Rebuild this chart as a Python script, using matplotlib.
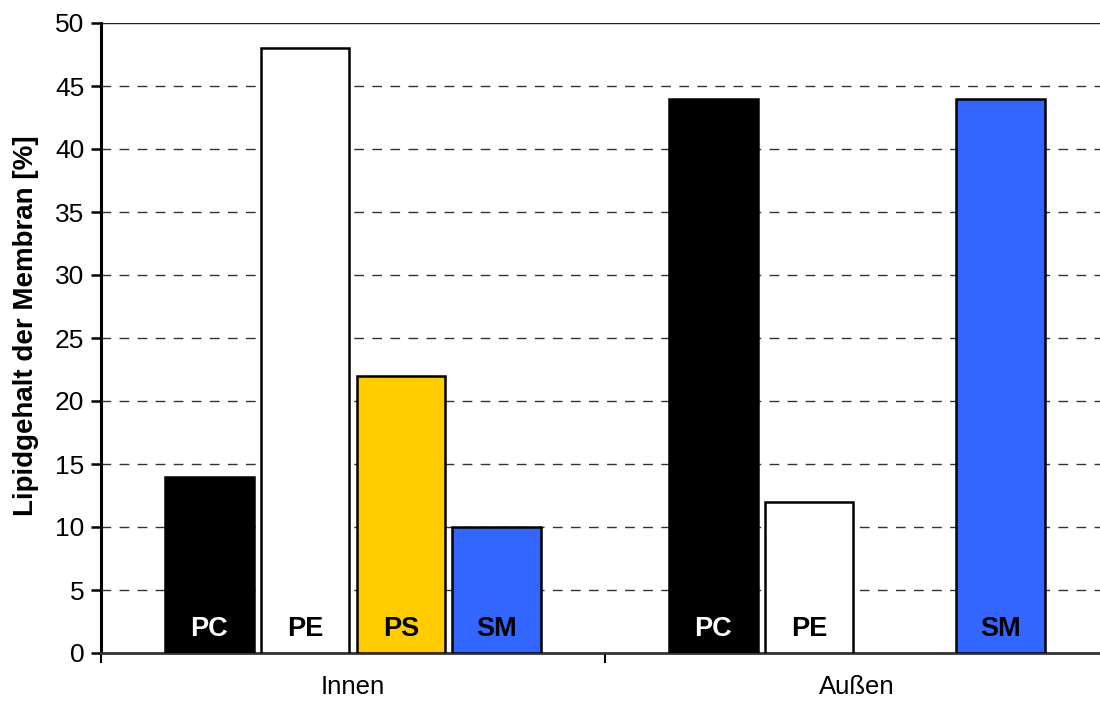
import matplotlib
matplotlib.use("Agg")
import matplotlib.pyplot as plt
import numpy as np

plt.rcParams['font.family'] = ['Liberation Sans', 'DejaVu Sans']

# Lipid composition of the membrane leaflets
groups = ["Innen", "Außen"]
lipids = ["PC", "PE", "PS", "SM"]
innen = [14, 48, 22, 10]
aussen = [44, 12, 0, 44]
values = [innen, aussen]

bar_colors = {"PC": "#000000", "PE": "#FFFFFF", "PS": "#FFCC00", "SM": "#3366FF"}
text_colors = {"PC": "white", "PE": "black", "PS": "black", "SM": "black"}

fig = plt.figure(figsize=(11.0, 7.01), dpi=100)
W, H = 1100, 701
ax = fig.add_axes([101 / W, (H - 653) / H, 1008 / W, 630 / H])

step = 0.19
width = 0.176
for gi, vals in enumerate(values):
    for li, (lip, v) in enumerate(zip(lipids, vals)):
        if v <= 0:
            continue
        x = gi + (li - 1.5) * step
        ax.bar(x, v, width=width, color=bar_colors[lip], edgecolor="black",
               linewidth=1.8, zorder=3)
        ax.text(x, 1.9, lip, ha="center", va="center", fontsize=19.5,
                fontweight="bold", color=text_colors[lip], zorder=4)

ax.set_xlim(-0.5, 1.5)
ax.set_ylim(0, 50)
ax.set_yticks(np.arange(0, 51, 5))
ax.tick_params(axis="y", labelsize=19, length=7, width=1.8, direction="out", pad=5)

# category boundaries carry the x ticks, labels sit at group centres
ax.set_xticks([-0.5, 0.5, 1.5])
ax.set_xticklabels([])
ax.set_xticks([0, 1], minor=True)
ax.set_xticklabels(groups, minor=True, fontsize=18.5)
ax.tick_params(axis="x", which="minor", length=0, pad=16)
ax.tick_params(axis="x", which="major", length=7, width=1.5, direction="out")

for y in np.arange(5, 50, 5):
    ax.axhline(y, color="#333333", linewidth=1.0, linestyle=(0, (7, 6)), zorder=1)
ax.axhline(50, color="#222222", linewidth=1.0, zorder=1)

for side in ["top", "right"]:
    ax.spines[side].set_visible(False)
ax.spines["left"].set_linewidth(2.2)
ax.spines["bottom"].set_linewidth(2.0)
ax.spines["bottom"].set_color("#333333")

ax.set_ylabel("Lipidgehalt der Membran [%]", fontsize=20, fontweight="bold")
ax.yaxis.set_label_coords(-0.0615, 0.52)

fig.savefig("out.png", dpi=100)
